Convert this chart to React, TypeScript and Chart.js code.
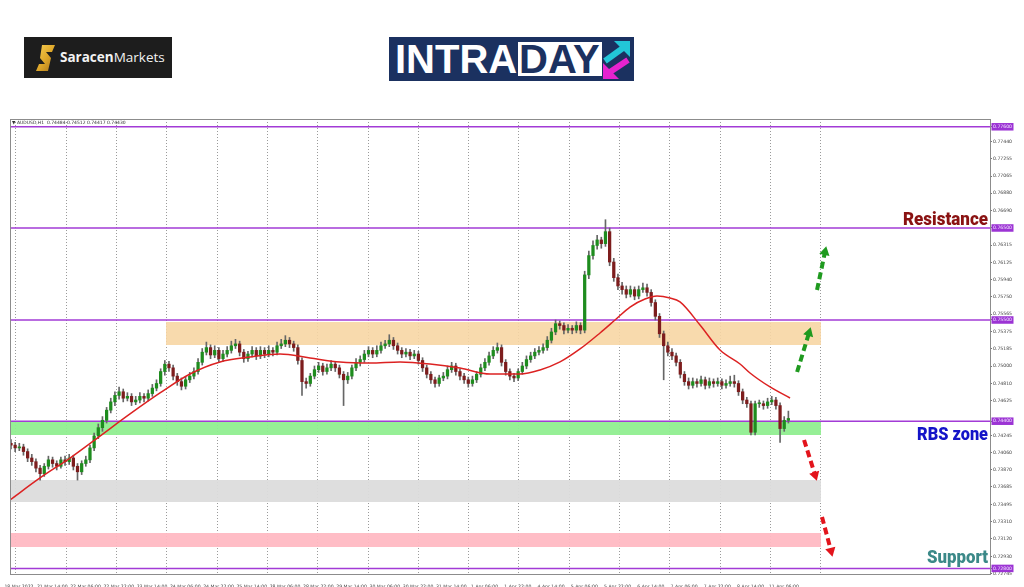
import React, { useEffect, useRef } from 'react';
import { Chart, registerables } from 'chart.js';

Chart.register(...registerables);

// ---------- DATA ----------
const OPENS = [
  0.7416,0.7414,0.7411,0.7412,0.7407,0.7400,0.7396,0.7389,0.7383,0.7391,
  0.7398,0.7394,0.7391,0.7398,0.7396,0.7400,0.7391,0.7385,0.7394,0.7398,
  0.7411,0.7424,0.7433,0.7441,0.7452,0.7461,0.7468,0.7472,0.7465,0.7467,
  0.7461,0.7463,0.7467,0.7465,0.7470,0.7476,0.7481,0.7494,0.7502,0.7498,
  0.7489,0.7483,0.7478,0.7485,0.7489,0.7494,0.7504,0.7515,0.7520,0.7512,
  0.7517,0.7508,0.7513,0.7517,0.7522,0.7524,0.7515,0.7508,0.7513,0.7517,
  0.7511,0.7517,0.7513,0.7517,0.7515,0.7522,0.7524,0.7528,0.7524,0.7520,
  0.7506,0.7483,0.7481,0.7489,0.7496,0.7500,0.7494,0.7498,0.7502,0.7498,
  0.7491,0.7485,0.7489,0.7498,0.7504,0.7507,0.7513,0.7517,0.7513,0.7517,
  0.7522,0.7524,0.7528,0.7522,0.7517,0.7513,0.7515,0.7511,0.7513,0.7506,
  0.7498,0.7491,0.7485,0.7481,0.7487,0.7489,0.7496,0.7500,0.7494,0.7489,
  0.7485,0.7481,0.7485,0.7491,0.7498,0.7504,0.7511,0.7517,0.7520,0.7504,
  0.7494,0.7489,0.7487,0.7494,0.7500,0.7507,0.7511,0.7515,0.7517,0.7520,
  0.7528,0.7537,0.7546,0.7544,0.7539,0.7541,0.7539,0.7544,0.7539,0.7599,
  0.7620,0.7631,0.7637,0.7633,0.7646,0.7613,0.7596,0.7587,0.7583,0.7578,
  0.7583,0.7576,0.7583,0.7585,0.7580,0.7569,0.7554,0.7535,0.7522,0.7515,
  0.7511,0.7504,0.7491,0.7483,0.7479,0.7483,0.7481,0.7485,0.7479,0.7483,
  0.7481,0.7483,0.7479,0.7481,0.7483,0.7481,0.7472,0.7463,0.7459,0.7428,
  0.7459,0.7459,0.7457,0.7461,0.7463,0.7457,0.7432,0.7441,
];
const HIGHS = [
  0.7420,0.7417,0.7416,0.7415,0.7410,0.7404,0.7399,0.7392,0.7394,0.7402,
  0.7401,0.7397,0.7401,0.7402,0.7404,0.7403,0.7394,0.7397,0.7402,0.7414,
  0.7427,0.7437,0.7445,0.7455,0.7465,0.7472,0.7477,0.7475,0.7471,0.7470,
  0.7467,0.7471,0.7470,0.7474,0.7480,0.7485,0.7497,0.7506,0.7505,0.7501,
  0.7492,0.7487,0.7488,0.7493,0.7498,0.7508,0.7519,0.7526,0.7523,0.7522,
  0.7520,0.7517,0.7521,0.7527,0.7529,0.7527,0.7518,0.7516,0.7521,0.7520,
  0.7521,0.7520,0.7522,0.7520,0.7526,0.7529,0.7533,0.7531,0.7527,0.7523,
  0.7509,0.7487,0.7492,0.7500,0.7504,0.7503,0.7502,0.7506,0.7505,0.7501,
  0.7494,0.7493,0.7501,0.7508,0.7511,0.7517,0.7521,0.7520,0.7522,0.7526,
  0.7528,0.7534,0.7531,0.7525,0.7520,0.7519,0.7518,0.7517,0.7516,0.7509,
  0.7501,0.7494,0.7488,0.7490,0.7493,0.7500,0.7504,0.7503,0.7497,0.7492,
  0.7488,0.7489,0.7494,0.7502,0.7508,0.7515,0.7521,0.7525,0.7523,0.7507,
  0.7497,0.7492,0.7497,0.7504,0.7511,0.7515,0.7519,0.7521,0.7524,0.7532,
  0.7541,0.7550,0.7549,0.7547,0.7545,0.7544,0.7548,0.7547,0.7603,0.7625,
  0.7636,0.7642,0.7640,0.7659,0.7650,0.7617,0.7600,0.7591,0.7587,0.7587,
  0.7586,0.7587,0.7590,0.7589,0.7583,0.7572,0.7557,0.7538,0.7526,0.7519,
  0.7514,0.7507,0.7494,0.7487,0.7487,0.7486,0.7489,0.7488,0.7487,0.7486,
  0.7487,0.7486,0.7485,0.7489,0.7490,0.7484,0.7475,0.7466,0.7462,0.7462,
  0.7463,0.7462,0.7465,0.7467,0.7466,0.7460,0.7445,0.7451,
];
const LOWS = [
  0.7410,0.7407,0.7408,0.7403,0.7396,0.7392,0.7385,0.7376,0.7380,0.7388,
  0.7390,0.7387,0.7389,0.7392,0.7393,0.7387,0.7376,0.7382,0.7391,0.7395,
  0.7408,0.7421,0.7429,0.7438,0.7449,0.7457,0.7464,0.7461,0.7462,0.7457,
  0.7458,0.7460,0.7461,0.7462,0.7467,0.7473,0.7478,0.7490,0.7494,0.7485,
  0.7479,0.7474,0.7475,0.7482,0.7486,0.7491,0.7501,0.7512,0.7508,0.7509,
  0.7504,0.7505,0.7510,0.7514,0.7519,0.7511,0.7504,0.7505,0.7510,0.7507,
  0.7508,0.7509,0.7510,0.7511,0.7512,0.7519,0.7521,0.7520,0.7516,0.7502,
  0.7468,0.7476,0.7478,0.7486,0.7493,0.7490,0.7491,0.7495,0.7494,0.7487,
  0.7457,0.7481,0.7486,0.7495,0.7500,0.7504,0.7510,0.7509,0.7510,0.7514,
  0.7519,0.7521,0.7518,0.7513,0.7509,0.7510,0.7507,0.7508,0.7502,0.7494,
  0.7487,0.7481,0.7477,0.7478,0.7484,0.7486,0.7493,0.7490,0.7485,0.7481,
  0.7477,0.7478,0.7482,0.7488,0.7495,0.7501,0.7508,0.7514,0.7500,0.7490,
  0.7485,0.7483,0.7484,0.7491,0.7497,0.7504,0.7508,0.7512,0.7514,0.7517,
  0.7525,0.7534,0.7540,0.7535,0.7536,0.7535,0.7536,0.7535,0.7536,0.7595,
  0.7616,0.7627,0.7628,0.7630,0.7609,0.7592,0.7583,0.7578,0.7574,0.7575,
  0.7572,0.7573,0.7580,0.7576,0.7565,0.7550,0.7531,0.7485,0.7511,0.7507,
  0.7500,0.7487,0.7479,0.7475,0.7476,0.7477,0.7478,0.7475,0.7476,0.7477,
  0.7478,0.7475,0.7476,0.7478,0.7477,0.7468,0.7459,0.7455,0.7425,0.7425,
  0.7455,0.7453,0.7454,0.7458,0.7453,0.7417,0.7429,0.7438,
];
const CLOSES = [
  0.7414,0.7411,0.7412,0.7407,0.7400,0.7396,0.7389,0.7383,0.7391,0.7398,
  0.7394,0.7391,0.7398,0.7396,0.7400,0.7391,0.7385,0.7394,0.7398,0.7411,
  0.7424,0.7433,0.7441,0.7452,0.7461,0.7468,0.7472,0.7465,0.7467,0.7461,
  0.7463,0.7467,0.7465,0.7470,0.7476,0.7481,0.7494,0.7502,0.7498,0.7489,
  0.7483,0.7478,0.7485,0.7489,0.7494,0.7504,0.7515,0.7520,0.7512,0.7517,
  0.7508,0.7513,0.7517,0.7522,0.7524,0.7515,0.7508,0.7513,0.7517,0.7511,
  0.7517,0.7513,0.7517,0.7515,0.7522,0.7524,0.7528,0.7524,0.7520,0.7506,
  0.7483,0.7481,0.7489,0.7496,0.7500,0.7494,0.7498,0.7502,0.7498,0.7491,
  0.7485,0.7489,0.7498,0.7504,0.7507,0.7513,0.7517,0.7513,0.7517,0.7522,
  0.7524,0.7528,0.7522,0.7517,0.7513,0.7515,0.7511,0.7513,0.7506,0.7498,
  0.7491,0.7485,0.7481,0.7487,0.7489,0.7496,0.7500,0.7494,0.7489,0.7485,
  0.7481,0.7485,0.7491,0.7498,0.7504,0.7511,0.7517,0.7520,0.7504,0.7494,
  0.7489,0.7487,0.7494,0.7500,0.7507,0.7511,0.7515,0.7517,0.7520,0.7528,
  0.7537,0.7546,0.7544,0.7539,0.7541,0.7539,0.7544,0.7539,0.7599,0.7620,
  0.7631,0.7637,0.7633,0.7646,0.7613,0.7596,0.7587,0.7583,0.7578,0.7583,
  0.7576,0.7583,0.7585,0.7580,0.7569,0.7554,0.7535,0.7522,0.7515,0.7511,
  0.7504,0.7491,0.7483,0.7479,0.7483,0.7481,0.7485,0.7479,0.7483,0.7481,
  0.7483,0.7479,0.7481,0.7483,0.7481,0.7472,0.7463,0.7459,0.7428,0.7459,
  0.7459,0.7457,0.7461,0.7463,0.7457,0.7432,0.7441,0.7443,
];

// moving average
const MA_X = [
  -0.24,6.98,14.19,21.41,28.63,35.84,43.06,50.28,57.49,64.71,71.93,79.14,86.36,93.58,
  100.79,108.01,115.23,122.44,127.26,132.07,136.88,141.69,145.30,148.91,152.51,155.40,
  158.53,160.93,165.74,170.56,175.37,177.77,182.59,187.40,
];
const MA_Y = [
  0.73544,0.73783,0.74000,0.74239,0.74479,0.74707,0.74913,0.75044,0.75098,0.75131,
  0.75087,0.75044,0.75033,0.75044,0.75022,0.74978,0.74913,0.74913,0.74957,0.75044,
  0.75185,0.75359,0.75500,0.75641,0.75728,0.75761,0.75739,0.75696,0.75446,0.75174,
  0.75022,0.74924,0.74772,0.74652,
];

const TIME_LABELS = [
  '18 Mar 2022','21 Mar 14:00','22 Mar 06:00','22 Mar 22:00','23 Mar 14:00','24 Mar 06:00',
  '24 Mar 22:00','25 Mar 14:00','28 Mar 06:00','28 Mar 22:00','29 Mar 14:00','30 Mar 06:00',
  '30 Mar 22:00','31 Mar 14:00','1 Apr 06:00','1 Apr 22:00','4 Apr 14:00','5 Apr 06:00',
  '5 Apr 22:00','6 Apr 14:00','7 Apr 06:00','7 Apr 22:00','8 Apr 14:00','11 Apr 06:00',
];
const TIME_LABEL_POS = [
  1.92,9.92,17.92,25.92,33.92,41.92,49.92,57.92,65.92,73.92,81.92,89.92,
  97.92,105.92,113.92,121.92,129.92,137.92,145.92,153.92,161.92,169.92,177.92,185.92,
];
const GRID_POS = [
  1.13,13.24,25.34,37.45,49.56,61.67,73.77,85.88,97.99,110.09,122.20,134.31,
  146.41,158.52,170.63,182.74,194.84,
];
const PRICE_TICKS = [
  0.77440,0.77255,0.77065,0.76880,0.76690,0.76315,0.76125,0.75940,0.75750,0.75565,
  0.75375,0.75185,0.75000,0.74810,0.74625,0.74245,0.74060,0.73870,0.73685,0.73495,
  0.73310,0.73120,0.72930,0.72745,
];
const LEVELS = [0.776, 0.765, 0.755, 0.744, 0.728];

const ZONE_TOP = [0.75478, 0.74392, 0.73761, 0.73185];
const ZONE_BOTTOM = [0.75228, 0.74251, 0.73522, 0.73033];
const ZONE_X0 = [37.29, -0.24, -0.24, -0.24];
const ZONE_X1 = [194.84, 194.84, 194.84, 194.84];

const ARROW_X0 = [189.10, 193.89, 190.77, 195.09];
const ARROW_Y0 = [0.74935, 0.75826, 0.74196, 0.73359];
const ARROW_X1 = [191.96, 195.81, 193.42, 197.26];
const ARROW_Y1 = [0.75359, 0.76239, 0.73815, 0.72990];

const NOTE_TEXTS = ['Resistance', 'RBS zone', 'Support'];
const NOTE_VALUES = [0.76532, 0.74196, 0.72859];

const HEADER = '\u25BC AUDUSD,H1  0.74484 0.74512 0.74417 0.74430';

// ---------- STYLE ----------
const X_MIN = -0.24;
const X_MAX = 235.5;
const Y_MIN = 0.727394;
const Y_MAX = 0.776845;
const ZONE_COLORS = ['rgba(247,214,164,0.9)', 'rgba(144,238,144,0.95)', 'rgba(220,220,220,0.95)', 'rgba(255,185,195,0.95)'];
const ARROW_COLORS = ['#1f9a1f', '#1f9a1f', '#e3141c', '#e3141c'];
const ARROW_ROT = [16.5, 12, 163, 166];
const NOTE_COLORS = ['#8a1212', '#1414c8', '#3b8988'];
const NOTE_WIDTHS = [85, 71, 61];
const LEVEL_COLOR = '#a23bd6';

function buildConfig(): any {
  const datasets: any[] = [];

  datasets.push({
    type: 'line',
    data: MA_X.map((x, i) => ({ x, y: MA_Y[i] })),
    borderColor: '#dc2222',
    borderWidth: 1.5,
    pointRadius: 0,
    cubicInterpolationMode: 'monotone',
    fill: false,
    order: 0,
  });

  ARROW_X0.forEach((x0, i) => {
    datasets.push({
      type: 'line',
      data: [{ x: x0, y: ARROW_Y0[i] }, { x: ARROW_X1[i], y: ARROW_Y1[i] }],
      borderColor: ARROW_COLORS[i],
      backgroundColor: ARROW_COLORS[i],
      borderWidth: 4,
      borderDash: [7, 4],
      pointRadius: [0, 6],
      pointStyle: 'triangle',
      rotation: ARROW_ROT[i],
      pointBorderWidth: 0,
      pointBackgroundColor: ARROW_COLORS[i],
      fill: false,
      order: 0,
    });
  });

  datasets.push({
    type: 'bar',
    data: OPENS.map((o, i) => ({ x: i, y: [o, CLOSES[i]] })),
    backgroundColor: (c: any) => (CLOSES[c.dataIndex] >= OPENS[c.dataIndex] ? '#1e8c1e' : '#7d1d1d'),
    barThickness: 2.6,
    minBarLength: 1,
    grouped: false,
    order: 1,
  });
  datasets.push({
    type: 'bar',
    data: OPENS.map((_, i) => ({ x: i, y: [LOWS[i], HIGHS[i]] })),
    backgroundColor: '#666666',
    barThickness: 1,
    grouped: false,
    order: 2,
  });

  LEVELS.forEach((v) => {
    datasets.push({
      type: 'line',
      data: [{ x: X_MIN, y: v }, { x: X_MAX, y: v }],
      borderColor: LEVEL_COLOR,
      borderWidth: 1.5,
      pointRadius: 0,
      fill: false,
      order: 3,
    });
  });

  ZONE_TOP.forEach((top, i) => {
    datasets.push({
      type: 'line',
      data: [{ x: ZONE_X0[i], y: top }, { x: ZONE_X1[i], y: top }],
      borderWidth: 0,
      borderColor: 'rgba(0,0,0,0)',
      backgroundColor: ZONE_COLORS[i],
      pointRadius: 0,
      fill: '+1',
      order: 5,
    });
    datasets.push({
      type: 'line',
      data: [{ x: ZONE_X0[i], y: ZONE_BOTTOM[i] }, { x: ZONE_X1[i], y: ZONE_BOTTOM[i] }],
      borderWidth: 0,
      borderColor: 'rgba(0,0,0,0)',
      pointRadius: 0,
      fill: false,
      order: 5,
    });
  });

  const isLevel = (v: number) => LEVELS.some((l) => Math.abs(l - v) < 1e-7);

  const plugins = [
    {
      id: 'bgframe',
      beforeDraw(chart: any) {
        const { ctx, width, height } = chart;
        ctx.save();
        ctx.fillStyle = '#ffffff';
        ctx.fillRect(0, 0, width, height);
        ctx.restore();
      },
      afterDraw(chart: any) {
        const { ctx, chartArea: a, scales } = chart;
        ctx.save();
        ctx.strokeStyle = '#8c8c8c';
        ctx.lineWidth = 1;
        ctx.strokeRect(Math.round(a.left) + 0.5, Math.round(a.top) + 0.5, Math.round(a.right - a.left), Math.round(a.bottom - a.top));
        ctx.font = '4.5px "DejaVu Sans"';
        ctx.fillStyle = '#333';
        ctx.textBaseline = 'middle';
        ctx.textAlign = 'left';
        ctx.fillText(HEADER, a.left + 2, a.top + 3.5);
        NOTE_TEXTS.forEach((t, i) => {
          const py = scales.y.getPixelForValue(NOTE_VALUES[i]);
          ctx.save();
          ctx.font = '900 18px Roboto';
          const w = ctx.measureText(t).width;
          ctx.translate(a.right - 2, py);
          ctx.scale(NOTE_WIDTHS[i] / w, 1);
          ctx.textAlign = 'right';
          ctx.textBaseline = 'alphabetic';
          ctx.fillStyle = NOTE_COLORS[i];
          ctx.fillText(t, 0, 0);
          ctx.restore();
        });
        ctx.restore();
      },
    },
  ];

  return {
    type: 'bar',
    data: { datasets },
    plugins,
    options: {
      responsive: false,
      animation: false,
      devicePixelRatio: 1,
      layout: { padding: { left: 10, top: 119, right: 0, bottom: 0 } },
      plugins: { legend: { display: false }, tooltip: { enabled: false } },
      scales: {
        x: {
          type: 'linear',
          position: 'bottom',
          min: X_MIN,
          max: X_MAX,
          offset: false,
          afterBuildTicks: (s: any) => { s.ticks = TIME_LABEL_POS.map((v) => ({ value: v })); },
          afterFit: (s: any) => { s.height = 13; s.paddingLeft = 0; s.paddingRight = 0; },
          grid: { display: false, offset: false },
          border: { display: true, color: '#8c8c8c' },
          ticks: {
            autoSkip: false,
            maxRotation: 0,
            padding: 2,
            color: '#444',
            font: { family: 'DejaVu Sans', size: 4.6 },
            callback: (_v: any, i: number) => TIME_LABELS[i],
          },
        },
        xg: {
          type: 'linear',
          position: 'top',
          min: X_MIN,
          max: X_MAX,
          offset: false,
          afterBuildTicks: (s: any) => { s.ticks = GRID_POS.map((v) => ({ value: v })); },
          afterFit: (s: any) => { s.height = 0; s.paddingLeft = 0; s.paddingRight = 0; },
          grid: { display: true, drawTicks: false, color: '#9a9a9a', lineWidth: 1, offset: false },
          border: { display: false, dash: [1, 2] },
          ticks: { display: false },
        },
        y: {
          type: 'linear',
          position: 'right',
          min: Y_MIN,
          max: Y_MAX,
          afterBuildTicks: (s: any) => {
            s.ticks = [...PRICE_TICKS, ...LEVELS].map((v) => ({ value: v }));
          },
          afterFit: (s: any) => { s.width = 34; s.paddingTop = 0; s.paddingBottom = 0; },
          grid: { drawOnChartArea: false, drawTicks: true, tickLength: 2, color: '#777' },
          border: { display: true, color: '#8c8c8c' },
          ticks: {
            autoSkip: false,
            padding: 1,
            font: { family: 'DejaVu Sans', size: 4.6 },
            color: (c: any) => (c.tick && isLevel(c.tick.value) ? '#f3e6ff' : '#444'),
            showLabelBackdrop: true,
            backdropColor: (c: any) => (c.tick && isLevel(c.tick.value) ? '#9c34d4' : 'rgba(0,0,0,0)'),
            backdropPadding: { x: 1.5, y: 1 },
            callback: (v: any) => Number(v).toFixed(5),
          },
        },
      },
    },
  };
}

function SaracenLogo() {
  return (
    <div style={{ position: 'absolute', left: 24, top: 37, width: 148, height: 41, background: '#1d1d1d', boxSizing: 'border-box' }}>
      <svg width="20" height="26" viewBox="0 0 20 26" style={{ position: 'absolute', left: 12, top: 8 }}>
        <defs>
          <linearGradient id="gold" x1="0" y1="0" x2="1" y2="1">
            <stop offset="0" stopColor="#f7cf55" />
            <stop offset="0.5" stopColor="#e0a92b" />
            <stop offset="1" stopColor="#a8741a" />
          </linearGradient>
        </defs>
        <path d="M6 0 L19 0 L16 7 L10 7 L15 13 L12 26 L0 26 L3 19 L9 19 L4 13 Z" fill="url(#gold)" />
      </svg>
      <div style={{ position: 'absolute', left: 36, top: 11, fontFamily: '"Open Sans", "Noto Sans", sans-serif', fontSize: 13.5, lineHeight: '18px', color: '#f2f2f2', whiteSpace: 'nowrap' }}>
        <span style={{ fontWeight: 700 }}>Saracen</span>
        <span style={{ fontWeight: 400 }}>Markets</span>
      </div>
    </div>
  );
}

function IntradayLogo() {
  return (
    <div style={{ position: 'absolute', left: 389, top: 37, width: 245, height: 44, background: '#1b3160' }}>
      <div style={{ position: 'absolute', left: 6, top: 1, fontFamily: '"Liberation Sans", Arial, sans-serif', fontWeight: 700, fontSize: 40, lineHeight: '42px', color: '#ffffff', letterSpacing: 0 }}>
        INTRA
      </div>
      <div style={{ position: 'absolute', left: 129, top: 5, width: 84, height: 34, background: '#ffffff' }}>
        <div style={{ position: 'absolute', left: 1, top: -4, fontFamily: '"Liberation Sans", Arial, sans-serif', fontWeight: 700, fontSize: 40, lineHeight: '42px', color: '#1b3160' }}>
          DAY
        </div>
      </div>
      <svg width="32" height="42" viewBox="0 0 32 42" style={{ position: 'absolute', left: 212, top: 2 }}>
        <line x1="4" y1="22" x2="22" y2="9" stroke="#22c6d8" strokeWidth="6" />
        <polygon points="29,2 29,18 13,2" fill="#22c6d8" />
        <line x1="27" y1="21" x2="9" y2="33" stroke="#e623cf" strokeWidth="6" />
        <polygon points="2,40 2,24 18,40" fill="#e623cf" />
      </svg>
    </div>
  );
}

export default function App() {
  const ref = useRef<HTMLCanvasElement>(null);
  useEffect(() => {
    if (!ref.current) return;
    const chart = new Chart(ref.current, buildConfig());
    return () => chart.destroy();
  }, []);
  return (
    <div style={{ position: 'absolute', left: 0, top: 0, width: 1024, height: 587, background: '#ffffff', overflow: 'hidden' }}>
      <canvas ref={ref} width={1024} height={587} style={{ position: 'absolute', left: 0, top: 0, width: 1024, height: 587 }} />
      <SaracenLogo />
      <IntradayLogo />
    </div>
  );
}
